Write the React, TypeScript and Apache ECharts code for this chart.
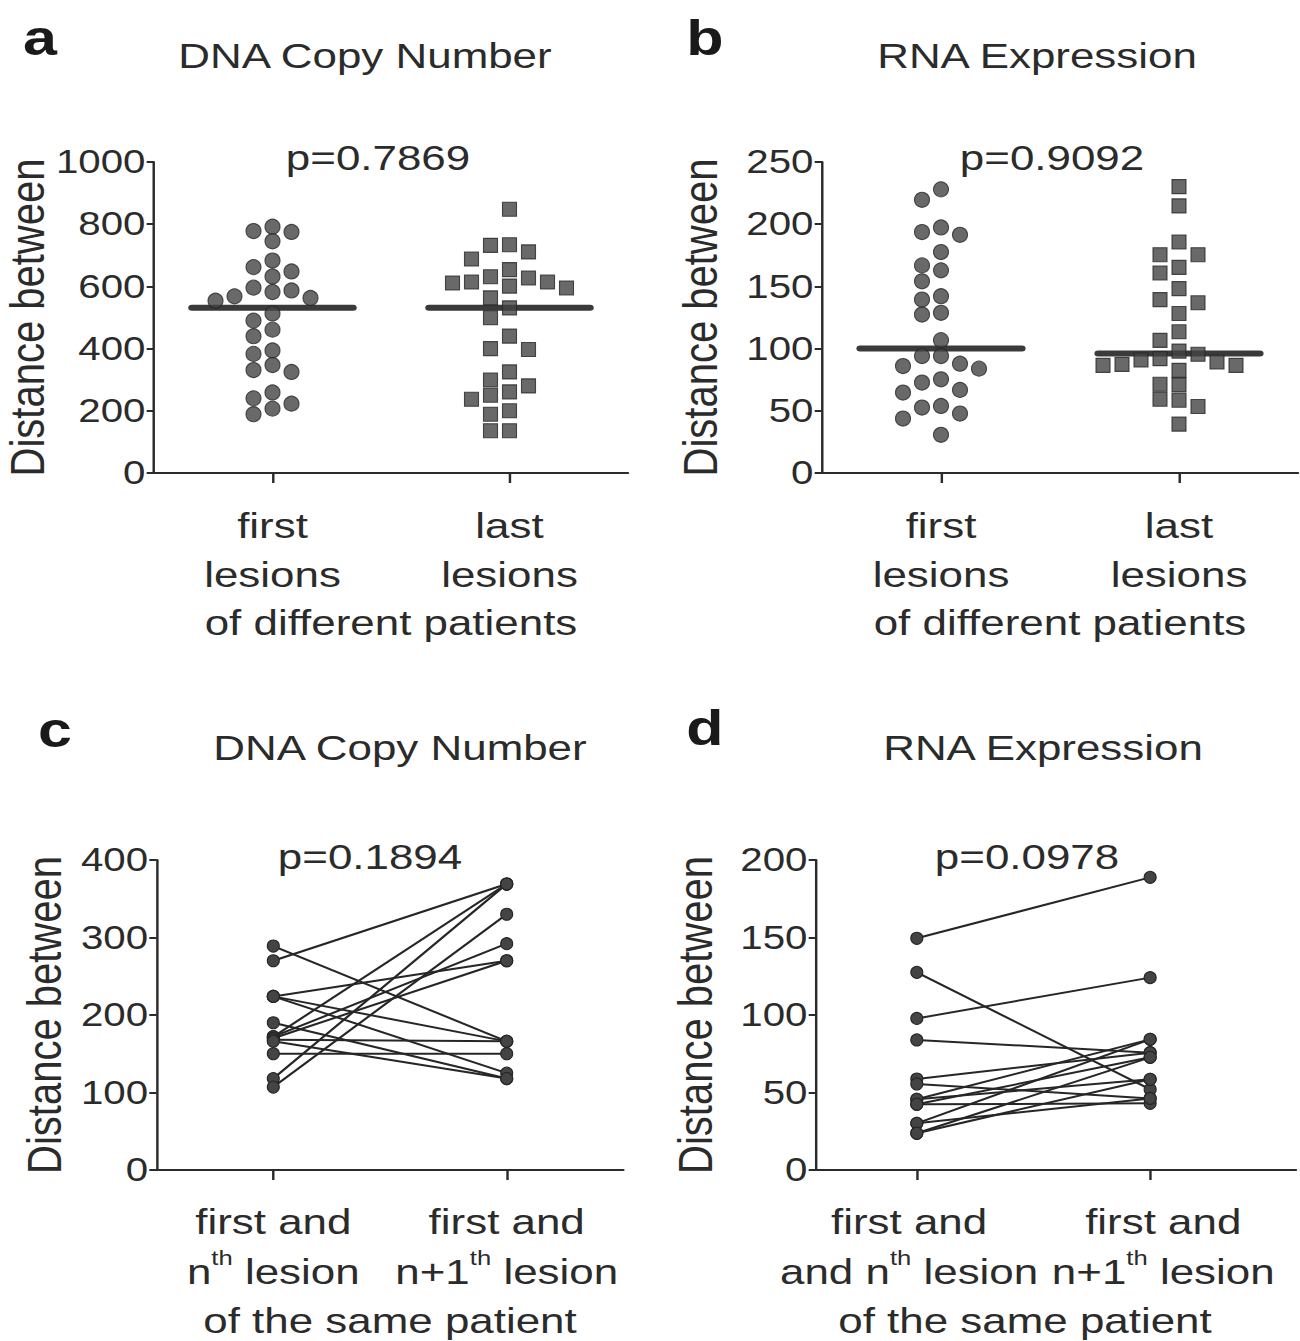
import React, { useEffect, useRef } from "react";
import * as echarts from "echarts";

// The reference figure is stretched horizontally; the chart is drawn in a
// narrower box and stretched by S so that glyphs get the same proportions.
const S = 1.22;
const PAGE_W = 1300;
const PAGE_H = 1341;
const FONT = '"Liberation Sans", Arial, Helvetica, sans-serif';
const INK = "#2b2b2b";
const MARK = "#444444";
const MARK_EDGE = "#262626";

// ---------------- data ----------------
const panelLetters = ["a", "b", "c", "d"];
const panelTitles = ["DNA Copy Number", "RNA Expression", "DNA Copy Number", "RNA Expression"];
const pValues = ["p=0.7869", "p=0.9092", "p=0.1894", "p=0.0978"];
const yAxisTitle = "Distance between";
const yMaxes = [1000, 250, 400, 200];
const yIntervals = [200, 50, 100, 50];

const topCategories = ["first\nlesions", "last\nlesions"];
const topGroupLabel = "of different patients";
const bottomCategoriesC = ["first and\nn{sup|th} lesion", "first and\nn+1{sup|th} lesion"];
const bottomCategoriesD = ["first and\nand n{sup|th} lesion", "first and\nn+1{sup|th} lesion"];
const bottomGroupLabel = "of the same patient";

// panel a: DNA copy number, different patients
const dnaFirstLesions = [792, 778, 775, 745, 683, 662, 648, 632, 596, 587, 582, 568, 563, 554, 513, 490, 461, 440, 394, 383, 347, 331, 325, 259, 240, 223, 207, 189];
const dnaLastLesions = [848, 734, 732, 711, 688, 654, 631, 627, 614, 614, 611, 601, 595, 563, 531, 499, 440, 400, 397, 325, 299, 280, 261, 250, 237, 200, 189, 136, 136];
const dnaMedians = [531, 531];

// panel b: RNA expression, different patients
const rnaFirstLesions = [228, 219.6, 197.4, 193.7, 191.5, 177.6, 166.9, 162.9, 154.1, 142.1, 139.4, 128.8, 127.4, 106.8, 94, 94, 87.9, 86, 83.9, 75.3, 72.7, 66.8, 64.7, 53.9, 52.6, 47.8, 43.8, 30.7];
const rnaLastLesions = [230.2, 214.7, 185.7, 175.5, 175.5, 165.3, 160.8, 148.2, 139.4, 136.8, 128.2, 113.5, 106.6, 98, 95.4, 91.9, 90.8, 89.2, 87.3, 86.5, 86.5, 82.5, 71.3, 70.8, 59.3, 58.5, 53.4, 39.3];
const rnaMedians = [100, 96];

// panel c: DNA copy number, same patient (paired: nth -> n+1th)
const dnaNth = [289, 270, 224, 224, 224, 190, 172, 172, 170, 168, 166, 150, 118, 107];
const dnaNplus1 = [166, 369, 270, 166, 125, 118, 369, 292, 270, 166, 118, 150, 369, 330];

// panel d: RNA expression, same patient (paired: nth -> n+1th)
const rnaNth = [149.5, 127.5, 97.8, 83.9, 58.7, 55.5, 45.6, 45.6, 42.4, 42.4, 30.1, 30.1, 23.7, 23.7];
const rnaNplus1 = [188.8, 52, 124.1, 75.7, 75.7, 46.2, 84.3, 58.5, 43, 72.7, 84.3, 46.2, 58.5, 72.7];

// ---------------- layout (reference pixels) ----------------
const layouts = [
  { left: 154, width: 474, top: 162, height: 311, xMin: -0.5, xMax: 1.5, labelAt: [0, 1], letter: [40, 38], title: [365, 56], p: [378, 158], yNameGap: 80, nameShift: 0 },
  { left: 822, width: 476, top: 162, height: 311, xMin: -0.5, xMax: 1.5, labelAt: [0, 1], letter: [705, 38], title: [1037, 56], p: [1052, 158], yNameGap: 80, nameShift: 0 },
  { left: 156.6, width: 466.8, top: 860, height: 310, xMin: -0.5, xMax: 1.5, labelAt: [0, 1], letter: [55, 730], title: [400, 748], p: [370, 857], yNameGap: 72, nameShift: 0 },
  { left: 816, width: 480, top: 860, height: 310, xMin: -0.432, xMax: 1.625, labelAt: [-0.033, 1.056], letter: [705, 728], title: [1043, 748], p: [1027, 857], yNameGap: 79, nameShift: -31 },
];

const X = (px: number) => px / S;
const COL_PX = 19; // swarm column spacing
const DOT_PX = 15; // swarm marker diameter
const HALF_MEDIAN = 0.34;

function beeswarm(values: number[], center: number, pxPerValue: number, colStep: number) {
  const sorted = [...values].sort((a, b) => b - a);
  const placed: { col: number; v: number }[] = [];
  const order = [0, -1, 1, -2, 2, -3, 3, -4, 4];
  return sorted.map((v) => {
    for (const c of order) {
      const clash = placed.some((p) => p.col === c && Math.abs(p.v - v) * pxPerValue < DOT_PX - 0.5);
      if (!clash) {
        placed.push({ col: c, v });
        return [center + c * colStep, v];
      }
    }
    return [center, v];
  });
}

function buildOption() {
  const grid: any[] = [];
  const xAxis: any[] = [];
  const yAxis: any[] = [];
  const series: any[] = [];
  const graphic: any[] = [];

  layouts.forEach((L, i) => {
    grid.push({ left: X(L.left), top: L.top, width: X(L.width), height: L.height, containLabel: false, outerBoundsMode: "none" });
    const isTop = i < 2;
    const cats = isTop ? topCategories : i === 2 ? bottomCategoriesC : bottomCategoriesD;
    const shift = X(L.nameShift) * 2;
    xAxis.push({
      type: "value",
      gridIndex: i,
      min: L.xMin,
      max: L.xMax,
      name: isTop ? topGroupLabel : bottomGroupLabel,
      nameLocation: "middle",
      nameGap: isTop ? 132 : 133,
      nameTextStyle: {
        fontFamily: FONT,
        fontSize: 36,
        color: INK,
        padding: shift < 0 ? [0, -shift, 0, 0] : [0, 0, 0, shift],
      },
      splitLine: { show: false },
      axisLine: { show: true, onZero: false, lineStyle: { color: INK, width: 2 } },
      axisTick: { show: true, inside: false, length: 10, lineStyle: { color: INK, width: 2 }, customValues: [0, 1] },
      axisLabel: {
        show: true,
        customValues: L.labelAt,
        showMinLabel: true,
        showMaxLabel: true,
        hideOverlap: false,
        margin: isTop ? 29 : 27,
        fontFamily: FONT,
        fontSize: 36,
        lineHeight: isTop ? 48.5 : 50,
        color: INK,
        formatter: (v: number) => cats[Math.abs(Math.round(v))] ?? "",
        rich: {
          sup: { fontFamily: FONT, fontSize: 21, color: INK, verticalAlign: "top", lineHeight: 50 },
        },
      },
    });
    yAxis.push({
      type: "value",
      gridIndex: i,
      min: 0,
      max: yMaxes[i],
      interval: yIntervals[i],
      name: yAxisTitle,
      nameLocation: "middle",
      nameGap: L.yNameGap,
      nameTextStyle: { fontFamily: FONT, fontSize: 40, color: INK },
      splitLine: { show: false },
      axisLine: { show: true, onZero: false, lineStyle: { color: INK, width: 2 } },
      axisTick: { show: true, inside: false, length: 6, lineStyle: { color: INK, width: 2 } },
      axisLabel: { fontFamily: FONT, fontSize: 33, color: INK, margin: 7, formatter: (v: number) => String(v) },
    });

    graphic.push(
      { type: "text", x: X(L.letter[0]), y: L.letter[1], style: { text: panelLetters[i], font: `bold 50px ${FONT}`, fill: "#1a1a1a", textAlign: "center", textVerticalAlign: "middle" } },
      { type: "text", x: X(L.title[0]), y: L.title[1], style: { text: panelTitles[i], font: `36px ${FONT}`, fill: INK, textAlign: "center", textVerticalAlign: "middle" } },
      { type: "text", x: X(L.p[0]), y: L.p[1], style: { text: pValues[i], font: `36px ${FONT}`, fill: INK, textAlign: "center", textVerticalAlign: "middle" } }
    );
  });

  // swarm panels
  const swarm = [
    { grid: 0, groups: [dnaFirstLesions, dnaLastLesions], medians: dnaMedians },
    { grid: 1, groups: [rnaFirstLesions, rnaLastLesions], medians: rnaMedians },
  ];
  swarm.forEach((sw) => {
    const L = layouts[sw.grid];
    const pxPerValue = L.height / yMaxes[sw.grid];
    const colStep = COL_PX / (L.width / (L.xMax - L.xMin));
    sw.groups.forEach((vals, g) => {
      series.push({
        type: "line",
        xAxisIndex: sw.grid,
        yAxisIndex: sw.grid,
        data: [
          [g - HALF_MEDIAN, sw.medians[g]],
          [g + HALF_MEDIAN, sw.medians[g]],
        ],
        symbol: "none",
        lineStyle: { color: "#3a3a3a", width: 6, cap: "round" },
        z: 2,
        silent: true,
      });
      series.push({
        type: "scatter",
        xAxisIndex: sw.grid,
        yAxisIndex: sw.grid,
        data: beeswarm(vals, g, pxPerValue, colStep),
        symbol: g === 0 ? "circle" : "rect",
        symbolSize: g === 0 ? [DOT_PX / S, DOT_PX] : [14 / S, 14],
        itemStyle: { color: MARK, borderColor: MARK_EDGE, borderWidth: 1 },
        z: 3,
      });
    });
  });

  // paired panels
  const paired = [
    { grid: 2, a: dnaNth, b: dnaNplus1 },
    { grid: 3, a: rnaNth, b: rnaNplus1 },
  ];
  paired.forEach((pp) => {
    pp.a.forEach((v, k) => {
      series.push({
        type: "line",
        xAxisIndex: pp.grid,
        yAxisIndex: pp.grid,
        data: [
          [0, v],
          [1, pp.b[k]],
        ],
        symbol: "circle",
        symbolSize: [12 / S, 12],
        showSymbol: true,
        itemStyle: { color: MARK, borderColor: MARK_EDGE, borderWidth: 1 },
        lineStyle: { color: "#262626", width: 2 },
        z: 3,
      });
    });
  });

  return {
    animation: false,
    backgroundColor: "#ffffff",
    textStyle: { fontFamily: FONT },
    grid,
    xAxis,
    yAxis,
    series,
    graphic,
  };
}

export default function App() {
  const ref = useRef<HTMLDivElement | null>(null);
  useEffect(() => {
    if (!ref.current) return;
    const chart = echarts.init(ref.current, undefined, { renderer: "svg" });
    chart.setOption(buildOption() as any);
    return () => chart.dispose();
  }, []);
  return (
    <div style={{ position: "fixed", left: 0, top: 0, width: PAGE_W, height: PAGE_H, overflow: "hidden", background: "#fff" }}>
      <div
        ref={ref}
        style={{
          width: PAGE_W / S,
          height: PAGE_H,
          transform: `scaleX(${S})`,
          transformOrigin: "0 0",
        }}
      />
    </div>
  );
}
